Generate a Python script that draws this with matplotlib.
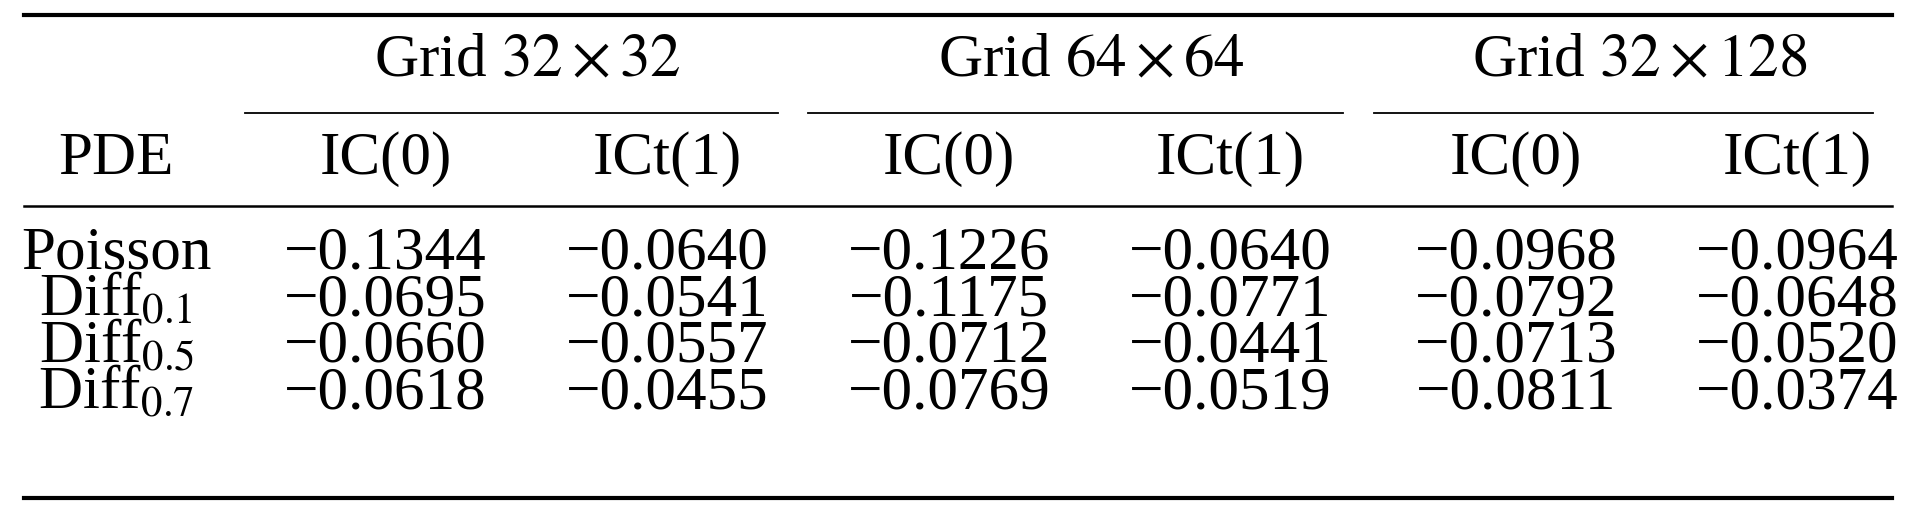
import matplotlib
matplotlib.use('Agg')
import matplotlib.pyplot as plt
from matplotlib.lines import Line2D

plt.rcParams['font.family'] = ['Liberation Serif', 'DejaVu Serif']
plt.rcParams['mathtext.fontset'] = 'stix'

# Table data
groups = ['Grid $32\\times32$', 'Grid $64\\times64$', 'Grid $32\\times128$']
subcols = ['IC(0)', 'ICt(1)']
pdes = ['Poisson', 'Diff$_{0.1}$', 'Diff$_{0.5}$', 'Diff$_{0.7}$']
values = [
    [-0.1344, -0.0640, -0.1226, -0.0640, -0.0968, -0.0964],
    [-0.0695, -0.0541, -0.1175, -0.0771, -0.0792, -0.0648],
    [-0.0660, -0.0557, -0.0712, -0.0441, -0.0713, -0.0520],
    [-0.0618, -0.0455, -0.0769, -0.0519, -0.0811, -0.0374],
]

# layout coordinates measured on a 1568-wide view
W, H = 1568, 421
fig = plt.figure(figsize=(19.2, 5.16), dpi=100)
fs = 44

def px(x, y):
    return x / W, 1 - y / H

def hline(x0, x1, y, lw):
    a, b = px(x0, y), px(x1, y)
    fig.add_artist(Line2D([a[0], b[0]], [a[1], b[1]], color='black', lw=lw))

def txt(x, y, s):
    fig.text(*px(x, y), s, ha='center', va='center', fontsize=fs)

col_x = [315, 545, 775, 1005, 1238, 1468]
group_x = [(200, 635), (660, 1097), (1122, 1530)]

hline(20, 1545, 12, 3.0)
for g, (a, b) in zip(groups, group_x):
    txt((a + b) / 2 + 13, 50, g)
    hline(a, b, 92, 1.3)
txt(95, 130, 'PDE')
for i, x in enumerate(col_x):
    txt(x, 130, subcols[i % 2])
hline(20, 1545, 168, 1.8)

row_y = [207, 245, 283, 321]
for y, name, row in zip(row_y, pdes, values):
    txt(95, y, name)
    for x, v in zip(col_x, row):
        txt(x, y, f'{v:.4f}'.replace('-', '\u2212'))
hline(20, 1545, 406, 3.0)

fig.savefig('out.png', dpi=100)
